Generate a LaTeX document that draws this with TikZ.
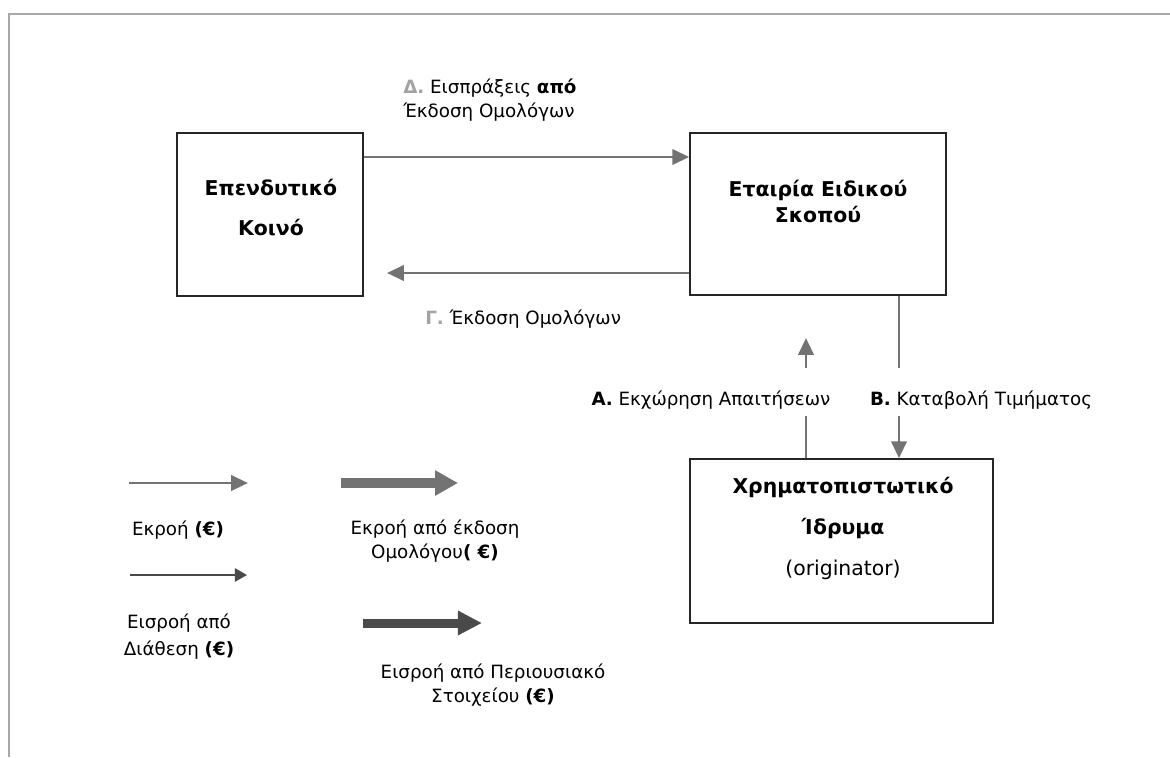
\documentclass[tikz,border=0pt]{standalone}
\usepackage{fontspec}
\setmainfont{DejaVu Sans}
\usepackage{tikz}
\usetikzlibrary{arrows.meta}

\definecolor{flowgray}{HTML}{737373}
\definecolor{darkflow}{HTML}{4A4A4A}
\definecolor{framegray}{HTML}{A8A8A8}
\definecolor{lettergray}{HTML}{A3A3A3}

\tikzset{
  entity/.style={draw=black!85, line width=1.1pt, inner sep=0pt},
  flowline/.style={draw=flowgray, line width=2.1pt},
  flow/.style={flowline, -{Triangle[length=0.42cm, width=0.38cm]}},
  txt/.style={font=\fontsize{13}{17}\selectfont, align=center, inner sep=0pt},
  boxtxt/.style={txt, font=\bfseries\fontsize{14.5}{19}\selectfont},
}

\begin{document}
\begin{tikzpicture}[x=0.025cm, y=-0.025cm]
\useasboundingbox (0,0) rectangle (1170,757);

% frame
\draw[framegray, line width=1.4pt] (9,757) -- (9,14) -- (1170,14);

% boxes
\node[entity, minimum width=4.65cm, minimum height=4.075cm] (investors) at (270,214.5) {};
\node[entity, minimum width=6.4cm, minimum height=4.05cm] (spv) at (818,214) {};
\node[entity, minimum width=7.575cm, minimum height=4.1cm] (bank) at (841.5,541) {};

\node[boxtxt] (investorsText) at (271,207.5) {Επενδυτικό\\[10pt]Κοινό};
\node[boxtxt] (spvText) at (818,201.5) {Εταιρία Ειδικού\\Σκοπού};
\node[boxtxt] (bankText) at (843,528.5) {Χρηματοπιστωτικό\\[10pt]Ίδρυμα\\[10pt]\mdseries (originator)};

% flows
\coordinate (Dlevel) at (0,157);
\coordinate (Gend) at (387,273);
\draw[flow] (investors.east |- Dlevel) -- (spv.west |- Dlevel);
\draw[flow] (spv.west |- Gend) -- (Gend);

\coordinate (Atip) at (806,338); \coordinate (Alow) at (806,368); \coordinate (Ahigh) at (806,416);
\draw[flow] (Alow) -- (Atip);
\draw[flowline] (bank.north -| Ahigh) -- (Ahigh);

\coordinate (Bend) at (899,368); \coordinate (Bstart) at (899,416);
\draw[flowline] (spv.south -| Bend) -- (Bend);
\draw[flow] (Bstart) -- (bank.north -| Bstart);

\node[txt, anchor=west, align=left] (Dlabel) at (403,100) {\textcolor{lettergray}{\textbf{Δ.}} Εισπράξεις \textbf{από}\\Έκδοση Ομολόγων};
\node[txt, anchor=west] (Glabel) at (425,319) {\textcolor{lettergray}{\textbf{Γ.}} Έκδοση Ομολόγων};
\node[txt] (Alabel) at (711,400) {\textbf{Α.} Εκχώρηση Απαιτήσεων};
\node[txt] (Blabel) at (981,400) {\textbf{Β.} Καταβολή Τιμήματος};

% legend
\coordinate (L1a) at (129,483); \coordinate (L1b) at (248,483);
\coordinate (L2a) at (341,483); \coordinate (L2b) at (458,483);
\coordinate (L3a) at (130,575); \coordinate (L3b) at (247,575);
\coordinate (L4a) at (363,623); \coordinate (L4b) at (482,623);
\draw[flow] (L1a) -- (L1b);
\draw[draw=flowgray, line width=7.1pt, -{Triangle[length=0.575cm, width=0.6cm]}] (L2a) -- (L2b);
\draw[draw=darkflow, line width=1.4pt, -{Triangle[length=0.3cm, width=0.33cm]}] (L3a) -- (L3b);
\draw[draw=darkflow, line width=6.4pt, -{Triangle[length=0.6cm, width=0.575cm]}] (L4a) -- (L4b);

\node[txt] (L1text) at (178,530) {Εκροή \textbf{(€)}};
\node[txt] (L2text) at (435,541.5) {Εκροή από έκδοση\\Ομολόγου\textbf{( €)}};
\node[txt] (L3text) at (179,636.5) {Εισροή από\\[2pt]Διάθεση \textbf{(€)}};
\node[txt] (L4text) at (493,685) {Εισροή από Περιουσιακό\\Στοιχείου \textbf{(€)}};

\end{tikzpicture}
\end{document}
